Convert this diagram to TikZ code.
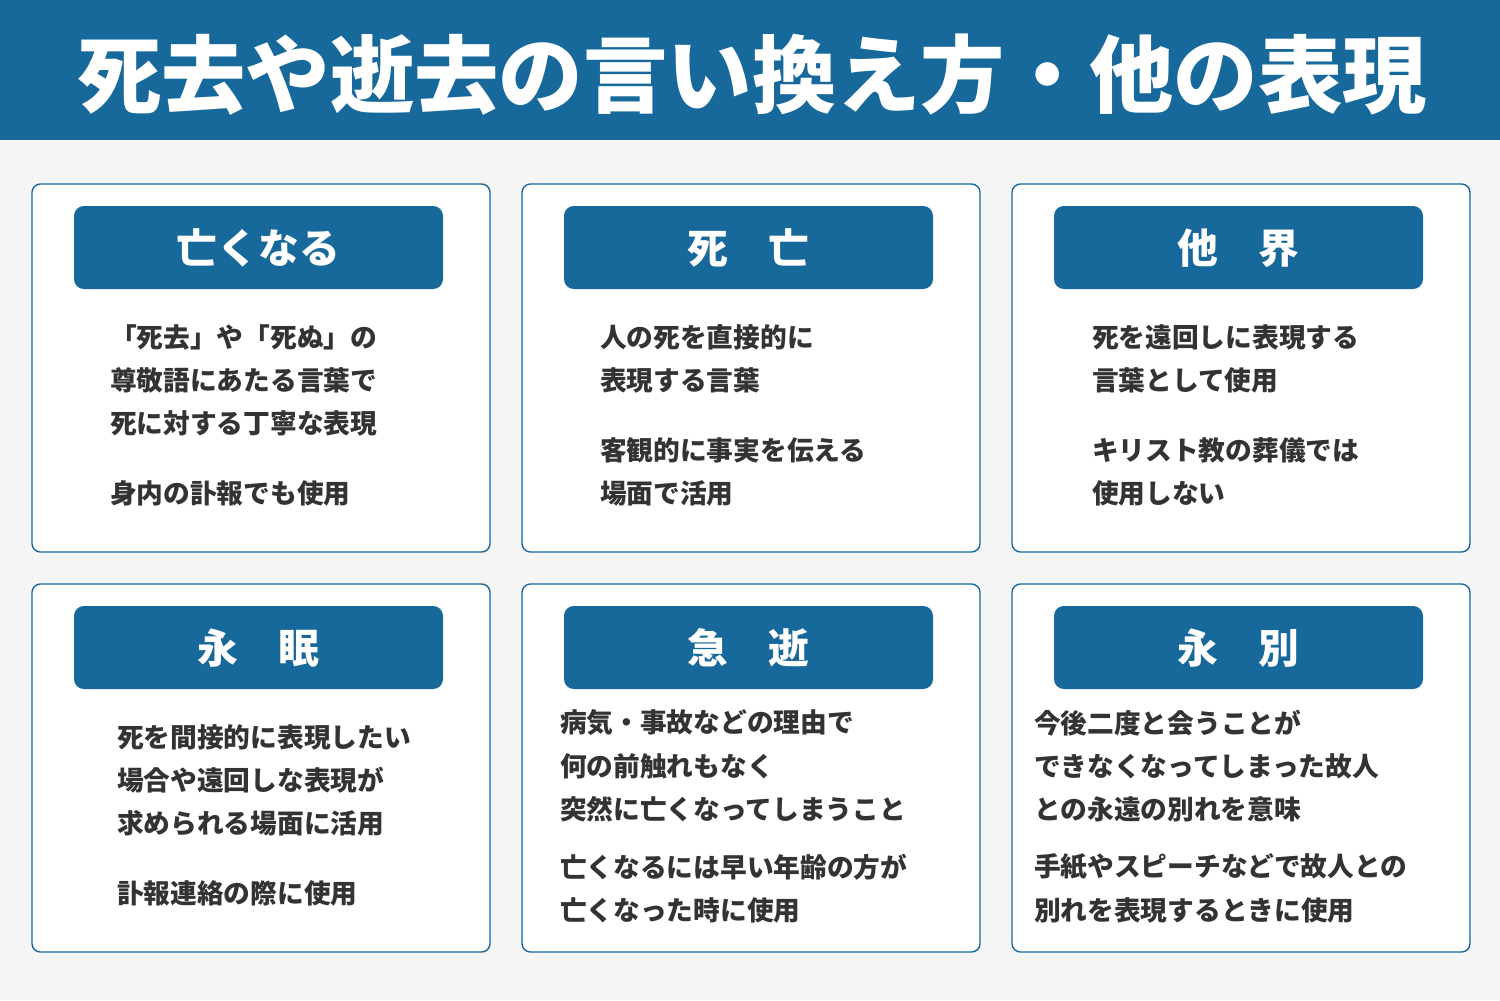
\documentclass[tikz,border=0pt]{standalone}
\usepackage{fontspec}
\newfontfamily\jp{Noto Sans CJK JP}
\definecolor{mainblue}{HTML}{18699B}
\definecolor{bgray}{HTML}{F5F5F5}
\definecolor{txt}{HTML}{333333}
\begin{document}
\begin{tikzpicture}[x=0.05cm,y=-0.05cm,
  card/.style={draw=mainblue,line width=2pt,fill=white,rounded corners=12pt},
  pill/.style={fill=mainblue,rounded corners=14pt},
  ttl/.style={text=white,font=\jp\bfseries\fontsize{58}{58}\selectfont,inner sep=0},
  body/.style={text=txt,font=\jp\bfseries\fontsize{38}{38}\selectfont,anchor=west,inner sep=0}]
\fill[bgray] (0,0) rectangle (1500,1000);
\useasboundingbox (0,0) rectangle (1500,1000);
\fill[mainblue] (0,0) rectangle (1500,140);
\node[text=white,font=\jp\bfseries\fontsize{120}{120}\selectfont,inner sep=0] (title) at (752,75) {死去や逝去の言い換え方・他の表現};
\foreach \cx/\cy/\n in {32/184/a,522/184/b,1012/184/c,32/584/d,522/584/e,1012/584/f}{
  \draw[card] (\cx,\cy) rectangle ++(458,368);
  \fill[pill] (\cx+42,\cy+22) rectangle ++(369,83);
  \coordinate (p\n) at (\cx+226.5,\cy+64);
}
\node[ttl] (ta) at (pa) {亡くなる};
\node[ttl] (tb) at (pb) {死　亡};
\node[ttl] (tc) at (pc) {他　界};
\node[ttl] (td) at (pd) {永　眠};
\node[ttl] (te) at (pe) {急　逝};
\node[ttl] (tf) at (pf) {永　別};
% card 1
\node[body] (a1) at (110,337) {「死去」や「死ぬ」の};
\node[body] (a2) at (110,380) {尊敬語にあたる言葉で};
\node[body] (a3) at (110,423) {死に対する丁寧な表現};
\node[body] (a4) at (110,493) {身内の訃報でも使用};
% card 2
\node[body] (b1) at (600,337) {人の死を直接的に};
\node[body] (b2) at (600,380) {表現する言葉};
\node[body] (b3) at (600,450) {客観的に事実を伝える};
\node[body] (b4) at (600,493) {場面で活用};
% card 3
\node[body] (c1) at (1092,337) {死を遠回しに表現する};
\node[body] (c2) at (1092,380) {言葉として使用};
\node[body] (c3) at (1092,450) {キリスト教の葬儀では};
\node[body] (c4) at (1092,493) {使用しない};
% card 4
\node[body] (d1) at (117,737) {死を間接的に表現したい};
\node[body] (d2) at (117,780) {場合や遠回しな表現が};
\node[body] (d3) at (117,823) {求められる場面に活用};
\node[body] (d4) at (117,893) {訃報連絡の際に使用};
% card 5
\node[body] (e1) at (560,723) {病気・事故などの理由で};
\node[body] (e2) at (560,766) {何の前触れもなく};
\node[body] (e3) at (560,809) {突然に亡くなってしまうこと};
\node[body] (e4) at (560,867) {亡くなるには早い年齢の方が};
\node[body] (e5) at (560,910) {亡くなった時に使用};
% card 6
\node[body] (f1) at (1034,723) {今後二度と会うことが};
\node[body] (f2) at (1034,766) {できなくなってしまった故人};
\node[body] (f3) at (1034,809) {との永遠の別れを意味};
\node[body] (f4) at (1034,867) {手紙やスピーチなどで故人との};
\node[body] (f5) at (1034,910) {別れを表現するときに使用};
\end{tikzpicture}
\end{document}
